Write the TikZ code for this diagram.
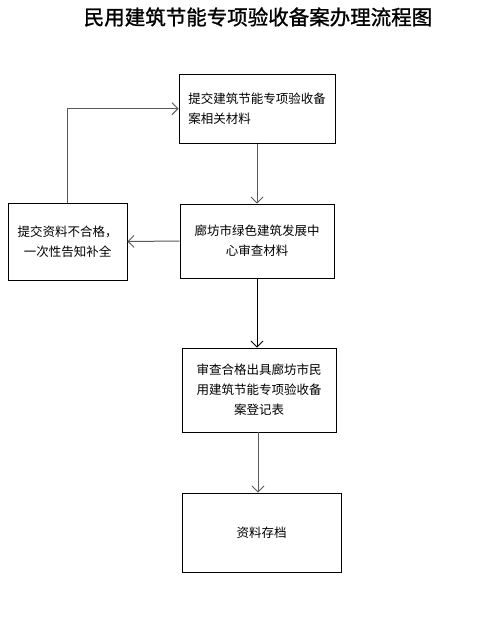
\documentclass[tikz,border=0pt]{standalone}
\usepackage{fontspec}
\setmainfont{Noto Sans CJK SC}
\newfontfamily\titlefont[FakeBold=1.2]{Noto Sans CJK SC}
\usetikzlibrary{arrows.meta}
\tikzset{
  box/.style={draw=black, line width=0.9pt, rectangle, inner sep=0pt, font=\fontsize{12.5}{20}\selectfont},
  conn/.style={line width=1pt, -{Straight Barb[length=6pt,width=12pt,line width=0.9pt]}},
  greyconn/.style={conn, draw=black!65},
}
\begin{document}
\begin{tikzpicture}[x=1pt,y=-1pt]
\useasboundingbox (0,0) rectangle (492,642);
\node[font=\titlefont\fontsize{20.5}{24}\selectfont] (title) at (258,17) {民用建筑节能专项验收备案办理流程图};
\node[box, minimum width=156pt, minimum height=69pt, align=left] (b1) at (257,108.7) {提交建筑节能专项验收备\\案相关材料};
\node[box, minimum width=154pt, minimum height=74pt, align=center] (b2) at (257,241) {廊坊市绿色建筑发展中\\心审查材料};
\node[box, minimum width=119pt, minimum height=77pt, align=center] (bl) at (67.5,241.5) {提交资料不合格，\\一次性告知补全};
\node[box, minimum width=154pt, minimum height=84pt, align=center] (b3) at (259,390) {审查合格出具廊坊市民\\用建筑节能专项验收备\\案登记表};
\node[box, minimum width=159pt, minimum height=79pt, align=center] (b4) at (261.5,532.5) {资料存档};
\draw[greyconn] (b1.south) -- (b1.south |- b2.north);
\draw[greyconn] (b2.west) -- (bl.east);
\draw[greyconn] (bl.north) |- (b1.west);
\draw[conn] (b2.south) -- (b2.south |- b3.north);
\draw[greyconn] ([xshift=-1pt]b3.south) -- ([xshift=-1pt]b3.south |- b4.north);
\end{tikzpicture}
\end{document}
